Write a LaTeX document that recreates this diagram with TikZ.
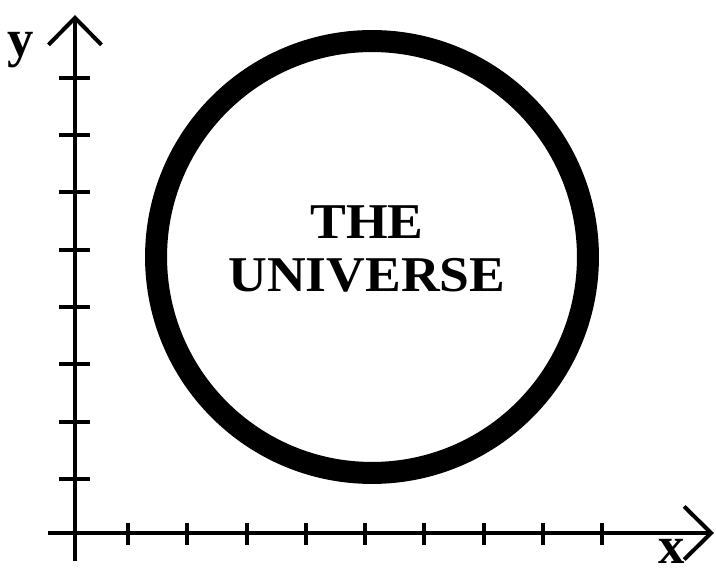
\documentclass[tikz,border=0pt]{standalone}
\usepackage{fontspec}
\setmainfont{Liberation Serif}
\usetikzlibrary{arrows.meta}

\begin{document}
\begin{tikzpicture}[
  x=0.02cm,
  y=0.02cm,
  >={Straight Barb[length=0.54cm, width=1.06cm]},
  axis/.style={line width=0.08cm},
  tick/.style={line width=0.08cm},
  ring/.style={line width=0.44cm},
  lbl/.style={font=\fontsize{30}{32}\selectfont\bfseries, inner sep=0pt},
  title/.style={font=\fontsize{28.5}{30}\selectfont\bfseries, align=center, xscale=1.07, inner sep=0pt},
]
  % frame of the picture (origin where the axes cross)
  \useasboundingbox (-75,-38) rectangle (641,533);

  \coordinate (ybot) at (0,-28);
  \coordinate (ytop) at (0,518);
  \coordinate (xbeg) at (-27,0);
  \coordinate (xend) at (639,0);

  % axes
  \draw[axis, ->, line join=miter] (ybot) -- (ytop);
  \draw[axis, ->, line join=miter] (xbeg) -- (xend);

  % ticks
  \foreach \k in {0,...,7}
    \draw[tick] (-16,{54+57.3*\k}) -- (15,{54+57.3*\k});
  \foreach \k in {0,...,8}
    \draw[tick] ({53+59.25*\k},10) -- ({53+59.25*\k},-12);

  \node[lbl, anchor=base] (ylbl) at (-54,476) {y};
  \node[lbl, anchor=base] (xlbl) at (597,-31) {x};

  % the universe
  \draw[ring] (297,276) circle (4.32cm);
  \node[title] (univ) at (292,284) {THE\\UNIVERSE};
\end{tikzpicture}
\end{document}
